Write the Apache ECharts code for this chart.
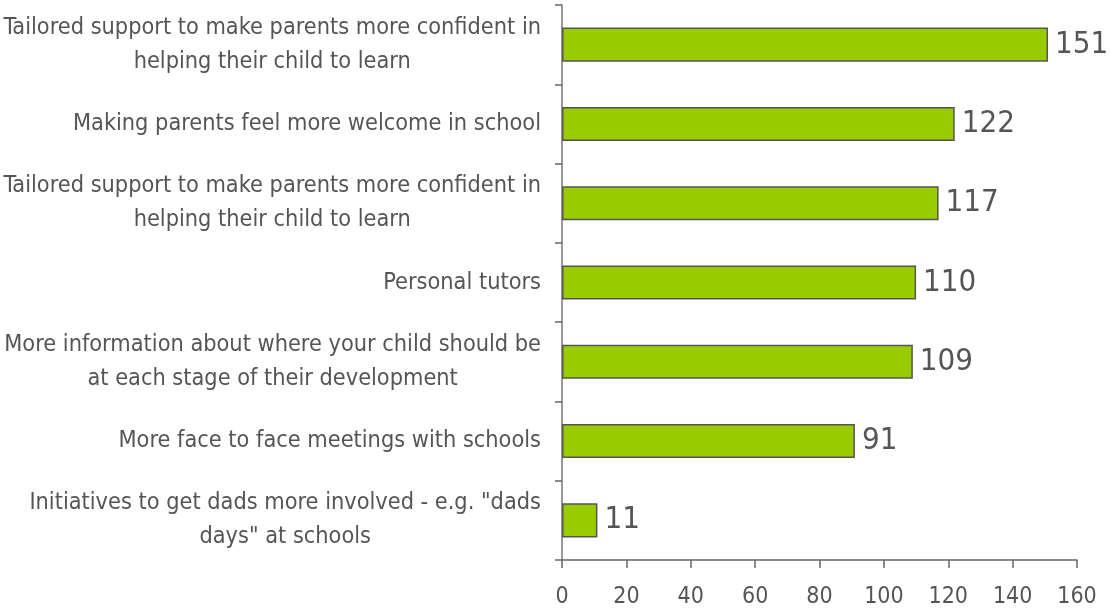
<!DOCTYPE html>
<html>
<head>
<meta charset="utf-8">
<script src="https://cdn.jsdelivr.net/npm/echarts@6/dist/echarts.min.js"></script>
<style>
  html, body { margin: 0; padding: 0; background: #fff; }
  #chart { width: 1110px; height: 615px; }
</style>
</head>
<body>
<div id="chart"></div>
<script>
// Survey responses: what would help parents support their child's learning
const categories = [
  'Tailored support to make parents more confident in\nhelping their child to learn',
  'Making parents feel more welcome in school',
  'Tailored support to make parents more confident in\nhelping their child to learn',
  'Personal tutors',
  'More information about where your child should be\nat each stage of their development',
  'More face to face meetings with schools',
  'Initiatives to get dads more involved - e.g. "dads\ndays" at schools'
];
const counts = [151, 122, 117, 110, 109, 91, 11];
const xTicks = [0, 20, 40, 60, 80, 100, 120, 140, 160];

const FONT = '"DejaVu Sans Condensed", "Liberation Sans Narrow", sans-serif';
const chart = echarts.init(document.getElementById('chart'), null, { renderer: 'canvas' });

chart.setOption({
  animation: false,
  backgroundColor: '#ffffff',
  grid: {
    left: 562, right: 33, top: 5, bottom: 55,
    containLabel: false, outerBoundsMode: 'none'
  },
  xAxis: {
    type: 'value',
    min: xTicks[0],
    max: xTicks[xTicks.length - 1],
    interval: xTicks[1] - xTicks[0],
    axisLine: { show: true, lineStyle: { color: '#666', width: 1.5 } },
    axisTick: { show: true, length: 8, lineStyle: { color: '#666', width: 1.5 } },
    splitLine: { show: false },
    axisLabel: { color: '#555', fontFamily: FONT, fontSize: 23, margin: 26 }
  },
  yAxis: {
    type: 'category',
    data: categories,
    inverse: true,
    axisLine: { show: true, lineStyle: { color: '#777', width: 1.5 } },
    axisTick: { show: true, length: 7, inside: false, lineStyle: { color: '#666', width: 1.5 } },
    axisLabel: {
      margin: 21,
      align: 'right',
      // each line is centred within the label block, block sits right of the axis
      formatter: function (value) {
        return value.split('\n').map(function (line) { return '{c|' + line + '}'; }).join('\n');
      },
      rich: {
        c: {
          color: '#555', fontFamily: FONT, fontSize: 23.3,
          lineHeight: 34, align: 'center'
        }
      }
    }
  },
  series: [{
    type: 'bar',
    data: counts,
    barWidth: '43%',
    itemStyle: { color: '#99cc00', borderColor: '#555', borderWidth: 1.5 },
    label: {
      show: true, position: 'right', distance: 7,
      color: '#555', fontFamily: FONT, fontSize: 31
    }
  }]
});
</script>
</body>
</html>
